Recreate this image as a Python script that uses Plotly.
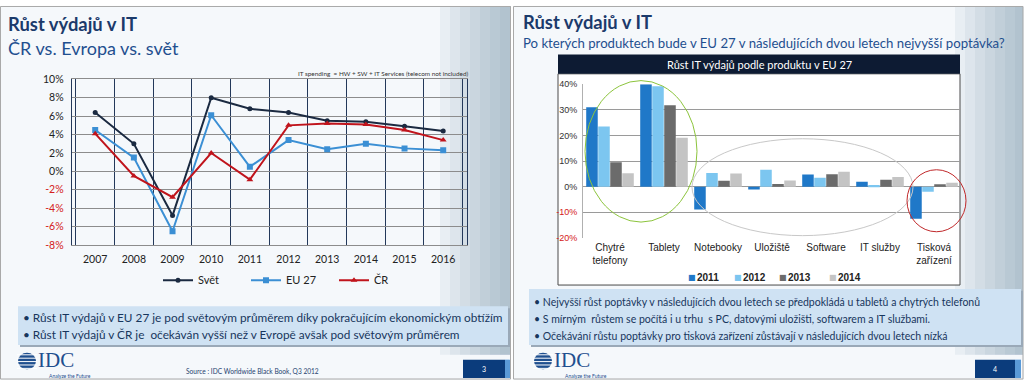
import plotly.graph_objects as go

# ---------------- data ----------------
years = ["2007", "2008", "2009", "2010", "2011", "2012", "2013", "2014", "2015", "2016"]
svet = [6.4, 3.0, -4.8, 8.0, 6.8, 6.4, 5.5, 5.4, 4.9, 4.4]
eu27 = [4.5, 1.5, -6.5, 6.1, 0.5, 3.4, 2.4, 3.0, 2.5, 2.3]
cr = [4.1, -0.5, -2.8, 2.0, -0.9, 5.0, 5.2, 5.1, 4.5, 3.4]

left_ticks = [-8, -6, -4, -2, 0, 2, 4, 6, 8, 10]
right_ticks = [-20, -10, 0, 10, 20, 30, 40]

products = ["Chytré<br>telefony", "Tablety", "Notebooky", "Uložiště", "Software", "IT služby", "Tisková<br>zařízení"]
g2011 = [31.0, 40.0, -8.9, -1.1, 4.7, 1.9, -12.5]
g2012 = [23.5, 39.2, 5.3, 6.6, 3.5, 0.6, -2.0]
g2013 = [9.5, 31.8, 2.3, 1.0, 4.8, 2.7, 0.9]
g2014 = [5.2, 19.1, 5.1, 2.4, 5.8, 3.8, 1.5]
bar_years = ["2011", "2012", "2013", "2014"]
bar_colors = ["#1f78c8", "#7cc6f0", "#6b6b6b", "#c4c4c4"]

W, H = 1024, 386
def X(p): return p / W
def Y(p): return 1 - p / H

CAL = "Lato, 'Noto Sans', sans-serif"
ARI = "'Liberation Sans', Arial, sans-serif"
NAVY = "#1b3a6b"
RED = "#d42020"

def tick_text(vals):
    out = []
    for v in vals:
        s = f"{v}%"
        out.append(f"<span style='color:{RED}'>{s}</span>" if v < 0 else s)
    return out

fig = go.Figure()

# line chart (left)
fig.add_trace(go.Scatter(x=years, y=svet, name="Svět", mode="lines+markers",
                         line=dict(color="#1b2a41", width=2),
                         marker=dict(symbol="circle", size=5, color="#1b2a41"),
                         xaxis="x", yaxis="y", legend="legend"))
fig.add_trace(go.Scatter(x=years, y=eu27, name="EU 27", mode="lines+markers",
                         line=dict(color="#3b8fd4", width=2),
                         marker=dict(symbol="square", size=6, color="#3b8fd4"),
                         xaxis="x", yaxis="y", legend="legend"))
fig.add_trace(go.Scatter(x=years, y=cr, name="ČR", mode="lines+markers",
                         line=dict(color="#c0141c", width=2),
                         marker=dict(symbol="triangle-up", size=6, color="#c0141c"),
                         xaxis="x", yaxis="y", legend="legend"))

# bar chart (right)
for name, vals, col in zip(bar_years, [g2011, g2012, g2013, g2014], bar_colors):
    fig.add_trace(go.Bar(x=products, y=vals, name=name, marker=dict(color=col, line=dict(width=0)),
                         xaxis="x2", yaxis="y2", showlegend=False))

shapes = []
ann = []

def rect(x0, y0, x1, y1, fill, line=None, lw=0, layer="below", opacity=1):
    shapes.append(dict(type="rect", xref="paper", yref="paper", x0=X(x0), x1=X(x1), y0=Y(y1), y1=Y(y0),
                       fillcolor=fill, line=dict(color=line or "rgba(0,0,0,0)", width=lw),
                       layer=layer, opacity=opacity))

def ellipse(x0, y0, x1, y1, col, lw=1):
    shapes.append(dict(type="circle", xref="paper", yref="paper", x0=X(x0), x1=X(x1), y0=Y(y1), y1=Y(y0),
                       line=dict(color=col, width=lw), fillcolor="rgba(0,0,0,0)", layer="above"))

def text(x, y, s, size, color="#222", font=CAL, xanchor="left", yanchor="middle"):
    ann.append(dict(x=X(x), y=Y(y), xref="paper", yref="paper", text=s, showarrow=False,
                    xanchor=xanchor, yanchor=yanchor, align="left", borderpad=0,
                    font=dict(size=size, color=color, family=font)))

# background tints (globe feel)
rect(0, 0, 511, 386, "rgba(235,242,248,0.5)")
rect(513, 0, 1024, 386, "rgba(235,242,248,0.5)")
for i in range(7):
    rect(440 + i * 10, 0, 511, 360, "rgba(110,140,170,0.09)")
    rect(955 + i * 10, 0, 1023, 360, "rgba(110,140,170,0.09)")

# slide borders
rect(0.5, 0.5, 510.5, 385, "rgba(0,0,0,0)", "#a9a9a9", 1)
rect(513.5, 0.5, 1023, 385, "rgba(0,0,0,0)", "#a9a9a9", 1)

# right chart frame & header
rect(558, 70, 960, 288, "rgba(255,255,255,0.93)", "#4a4a4a", 1)
rect(558, 50, 960, 70, "#0d1b33")
text(759, 60, "Růst IT výdajů podle produktu v EU 27", 11, "white", xanchor="center")

# bullet boxes (with shadow)
rect(20, 312, 510, 352, "#9aa9b8")
rect(18, 310, 508, 350, "#cfe2f3")
rect(531, 294, 1023, 352, "#9aa9b8")
rect(529, 292, 1021, 350, "#cfe2f3")

# page number boxes
rect(463, 365, 505, 384, "#0b3c7c")
rect(505, 365, 510, 384, "#5a9ad8")
text(484, 374.5, "3", 7, "white", xanchor="center")
rect(975, 365, 1015, 384, "#0b3c7c")
rect(1015, 365, 1021, 384, "#5a9ad8")
text(995, 374.5, "4", 7, "white", xanchor="center")

# IDC logos
for gx, tx in [(27, 37), (543, 553)]:
    shapes.append(dict(type="circle", xref="paper", yref="paper", x0=X(gx - 9), x1=X(gx + 9),
                       y0=Y(375), y1=Y(358), fillcolor="#1f4f8f", line=dict(width=0), layer="below"))
    for k in range(5):
        yy = 360 + k * 3.5
        shapes.append(dict(type="line", xref="paper", yref="paper", x0=X(gx - 10), x1=X(gx + 10),
                           y0=Y(yy), y1=Y(yy), line=dict(color="white", width=1), layer="above"))
    text(tx, 365, "IDC", 21, "#1f4f8f", font="'Liberation Serif', 'DejaVu Serif', serif")
    text(tx + 11, 381.5, "Analyze the Future", 5, "#1f4f8f")

# titles
text(7, 19, "<b>Růst výdajů v IT</b>", 18.4, NAVY)
text(7, 43, "ČR vs. Evropa vs. svět", 18, "#1f4f8f")
text(522, 17, "<b>Růst výdajů v IT</b>", 18.4, NAVY)
text(522, 38, "Po kterých produktech bude v EU 27 v následujících dvou letech nejvyšší poptávka?", 13.2, "#1f4f8f")

text(469, 70, "IT spending  = HW + SW + IT Services (telecom not included)", 6.4, "#333", xanchor="right")

# bullets
text(22, 321.5, "• Růst IT výdajů v EU 27 je pod světovým průměrem díky pokračujícím ekonomickým obtížím", 11.8, "#17365d")
text(22, 339, "• Růst IT výdajů v ČR je  očekáván vyšší než v Evropě avšak pod světovým průměrem", 11.8, "#17365d")
text(533, 305.5, "• Nejvyšší růst poptávky v následujících dvou letech se předpokládá u tabletů a chytrých telefonů", 10.5, "#17365d")
text(533, 323, "• S mírným  růstem se počítá i u trhu  s PC, datovými uložišti, softwarem a IT službami.", 10.5, "#17365d")
text(533, 340.5, "• Očekávání růstu poptávky pro tisková zařízení zůstávají v následujících dvou letech nízká", 10.5, "#17365d")

text(185, 377, "Source : IDC Worldwide Black Book, Q3 2012", 6.6, "#1f3f6f")

# bar legend (right chart)
for name, col, lx in zip(bar_years, bar_colors, [692, 738, 783, 833]):
    text(lx, 280, "■", 8, col, font="'DejaVu Sans', sans-serif", xanchor="center")
    text(lx + 4, 280, f"<b>{name}</b>", 10, "#222", font=ARI)

# ellipses
ellipse(585, 77, 697, 223, "#8cc43c")
ellipse(692, 137, 913, 237, "#c8c8c8")
ellipse(907, 169, 966, 233, "#c0282a")

fig.update_layout(
    width=W, height=H, margin=dict(l=0, r=0, t=0, b=0),
    paper_bgcolor="white", plot_bgcolor="rgba(0,0,0,0)",
    font=dict(family=CAL, size=10, color="#222"),
    barmode="group", bargap=0.11, bargroupgap=0.04,
    xaxis=dict(domain=[X(71.7), X(466.7)], anchor="y", type="category", tickson="boundaries",
               showgrid=True, gridcolor="#23385a", gridwidth=1, ticks="",
               tickfont=dict(size=10.5, family=CAL, color="#222"), ticklabelstandoff=4,
               showline=True, mirror=True, linecolor="#8c8c8c", linewidth=1),
    yaxis=dict(domain=[Y(246.7), Y(75.7)], anchor="x", range=[-8, 10], tickvals=left_ticks,
               ticktext=tick_text(left_ticks), showgrid=True, gridcolor="#8c8c8c", gridwidth=1,
               zeroline=False, showline=True, mirror=True, linecolor="#23385a", linewidth=1,
               tickfont=dict(size=10.5, family=CAL, color="#222"), ticklabelstandoff=5),
    xaxis2=dict(domain=[X(583), X(961)], anchor="y2", type="category", showgrid=False, ticks="",
                tickfont=dict(size=10, family=ARI, color="#222"), ticklabelstandoff=2),
    yaxis2=dict(domain=[Y(239.3), Y(80.7)], anchor="x2", range=[-20, 40], tickvals=right_ticks,
                ticktext=tick_text(right_ticks), showgrid=True, gridcolor="#9a9a9a", gridwidth=1,
                zeroline=False, showline=True, linecolor="#b0b0b0",
                tickfont=dict(size=9, family=ARI, color="#333"), ticklabelstandoff=3),
    legend=dict(orientation="h", x=X(158), xanchor="left", y=Y(283), yanchor="middle",
                bgcolor="rgba(0,0,0,0)", font=dict(size=11, family=CAL, color="#222"),
                itemwidth=30, entrywidth=43),
    shapes=shapes, annotations=ann,
)

fig.write_html("out.html", config={"displayModeBar": False},
               post_script="document.body.style.margin='0';document.body.style.overflow='hidden';")
